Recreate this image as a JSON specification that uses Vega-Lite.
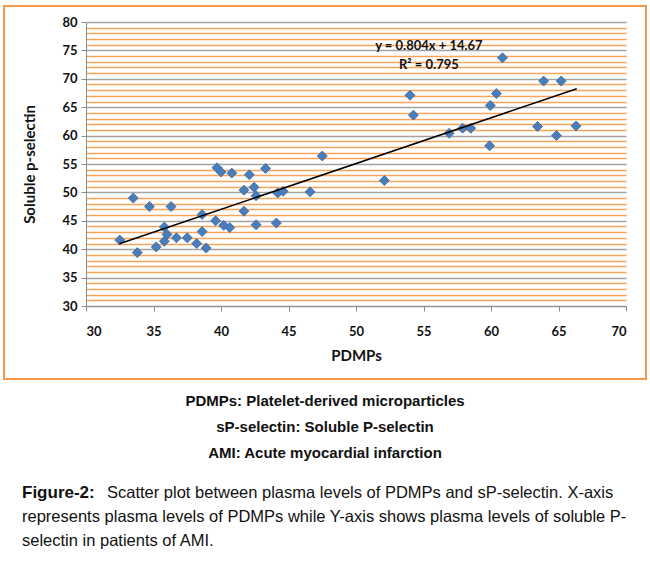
{
  "$schema": "https://vega.github.io/schema/vega-lite/v6.json",
  "padding": {"left": 3, "top": 4, "right": 0, "bottom": 0},
  "background": "white",
  "config": {
    "view": {"stroke": null},
    "font": "Lato",
    "concat": {"spacing": 10}
  },
  "datasets": {
    "points": [
      {"pdmp": 32.5, "sp": 41.6}, {"pdmp": 33.5, "sp": 49.0}, {"pdmp": 33.8, "sp": 39.4},
      {"pdmp": 34.7, "sp": 47.5}, {"pdmp": 35.2, "sp": 40.4}, {"pdmp": 35.8, "sp": 43.9},
      {"pdmp": 36.0, "sp": 42.6}, {"pdmp": 35.8, "sp": 41.4}, {"pdmp": 36.3, "sp": 47.5},
      {"pdmp": 36.7, "sp": 42.0}, {"pdmp": 37.5, "sp": 42.0}, {"pdmp": 38.2, "sp": 41.0},
      {"pdmp": 38.6, "sp": 46.1}, {"pdmp": 38.6, "sp": 43.1}, {"pdmp": 38.9, "sp": 40.2},
      {"pdmp": 39.6, "sp": 45.0}, {"pdmp": 39.7, "sp": 54.35}, {"pdmp": 40.0, "sp": 53.6},
      {"pdmp": 40.8, "sp": 53.4}, {"pdmp": 40.2, "sp": 44.2}, {"pdmp": 40.65, "sp": 43.8},
      {"pdmp": 41.7, "sp": 50.4}, {"pdmp": 41.7, "sp": 46.7}, {"pdmp": 42.1, "sp": 53.1},
      {"pdmp": 42.45, "sp": 50.9}, {"pdmp": 42.6, "sp": 49.4}, {"pdmp": 42.6, "sp": 44.3},
      {"pdmp": 43.3, "sp": 54.2}, {"pdmp": 44.2, "sp": 49.9}, {"pdmp": 44.6, "sp": 50.2},
      {"pdmp": 44.1, "sp": 44.6}, {"pdmp": 46.6, "sp": 50.1}, {"pdmp": 47.5, "sp": 56.4},
      {"pdmp": 52.1, "sp": 52.1}, {"pdmp": 54.0, "sp": 67.1}, {"pdmp": 54.25, "sp": 63.6},
      {"pdmp": 56.9, "sp": 60.4}, {"pdmp": 57.9, "sp": 61.3}, {"pdmp": 58.5, "sp": 61.3},
      {"pdmp": 59.9, "sp": 58.2}, {"pdmp": 59.95, "sp": 65.3}, {"pdmp": 60.4, "sp": 67.4},
      {"pdmp": 60.85, "sp": 73.7}, {"pdmp": 63.45, "sp": 61.6}, {"pdmp": 63.9, "sp": 69.6},
      {"pdmp": 64.85, "sp": 60.0}, {"pdmp": 65.2, "sp": 69.6}, {"pdmp": 66.3, "sp": 61.7}
    ],
    "trend": [
      {"pdmp": 32.47, "sp": 40.95},
      {"pdmp": 66.35, "sp": 68.25}
    ],
    "eq": [
      {"pdmp": 55.4, "sp": 75.8, "label": "y = 0.804x + 14.67"},
      {"pdmp": 55.4, "sp": 72.4, "label": "R² = 0.795"}
    ],
    "captions": [
      {"line": 1, "text": "PDMPs: Platelet-derived microparticles"},
      {"line": 2, "text": "sP-selectin: Soluble P-selectin"},
      {"line": 3, "text": "AMI: Acute myocardial infarction"}
    ],
    "para": [
      {"line": 1, "part": "label", "text": "Figure-2:"},
      {"line": 1, "part": "lead", "text": "Scatter plot between plasma levels of PDMPs and sP-selectin. X-axis"},
      {"line": 2, "part": "body", "text": "represents plasma levels of PDMPs while Y-axis shows plasma levels of soluble P-"},
      {"line": 3, "part": "body", "text": "selectin in patients of AMI."}
    ]
  },
  "vconcat": [
    {
      "width": 540,
      "height": 284,
      "layer": [
        {
          "data": {"name": "points"},
          "mark": {"type": "point", "shape": "diamond", "filled": true, "size": 100, "fill": "#4a7ebb", "stroke": "#3a67a0", "strokeWidth": 0.8, "opacity": 1},
          "encoding": {
            "x": {
              "field": "pdmp", "type": "quantitative",
              "scale": {"domain": [30, 70], "nice": false, "zero": false},
              "axis": {
                "title": "PDMPs",
                "values": [30, 35, 40, 45, 50, 55, 60, 65, 70],
                "tickCount": 20,
                "format": "d",
                "grid": false,
                "domainColor": "#8c8c8c",
                "tickColor": "#8c8c8c",
                "tickSize": 5,
                "labelFont": "Lato", "labelFontWeight": "bold", "labelFontSize": 13, "labelColor": "#111",
                "labelPadding": 14,
                "titleFont": "Lato", "titleFontWeight": "bold", "titleFontSize": 15, "titleColor": "#111",
                "titlePadding": 10
              }
            },
            "y": {
              "field": "sp", "type": "quantitative",
              "scale": {"domain": [30, 80], "nice": false, "zero": false},
              "axis": {
                "title": "Soluble p-selectin",
                "values": [30,31,32,33,34,35,36,37,38,39,40,41,42,43,44,45,46,47,48,49,50,51,52,53,54,55,56,57,58,59,60,61,62,63,64,65,66,67,68,69,70,71,72,73,74,75,76,77,78,79,80],
                "tickCount": 100,
                "format": "d",
                "grid": true,
                "gridColor": {"condition": {"test": "datum.value % 5 === 0", "value": "#a3a3a3"}, "value": "#f7a45c"},
                "gridWidth": 1.5,
                "tickOpacity": {"condition": {"test": "datum.value % 5 === 0", "value": 1}, "value": 0},
                "labelExpr": "datum.value % 5 === 0 ? datum.label : ''",
                "labelOverlap": false,
                "labelFlush": false,
                "domainColor": "#8c8c8c",
                "tickColor": "#8c8c8c",
                "tickSize": 5,
                "labelFont": "Lato", "labelFontWeight": "bold", "labelFontSize": 13, "labelColor": "#111",
                "labelPadding": 4,
                "titleFont": "Lato", "titleFontWeight": "bold", "titleFontSize": 15, "titleColor": "#111",
                "titlePadding": 24
              }
            }
          }
        },
        {
          "data": {"name": "trend"},
          "mark": {"type": "line", "color": "black", "strokeWidth": 1.5},
          "encoding": {
            "x": {"field": "pdmp", "type": "quantitative"},
            "y": {"field": "sp", "type": "quantitative"}
          }
        },
        {
          "data": {"name": "eq"},
          "mark": {"type": "text", "font": "Lato", "fontWeight": "bold", "fontSize": 13, "color": "#111"},
          "encoding": {
            "x": {"field": "pdmp", "type": "quantitative"},
            "y": {"field": "sp", "type": "quantitative"},
            "text": {"field": "label"}
          }
        },
        {
          "data": {"values": [{}]},
          "mark": {"type": "rect", "filled": false, "stroke": "#f79646", "strokeWidth": 2, "clip": false},
          "encoding": {
            "x": {"datum": 23.93, "type": "quantitative"},
            "x2": {"datum": 71.48},
            "y": {"datum": 82.82, "type": "quantitative"},
            "y2": {"datum": 17.15}
          }
        }
      ]
    },
    {
      "width": 478,
      "height": 74,
      "data": {"name": "captions"},
      "mark": {"type": "text", "font": "Liberation Sans", "fontWeight": "bold", "fontSize": 15, "color": "#111", "align": "center"},
      "encoding": {
        "y": {"field": "line", "type": "ordinal", "scale": {"type": "point", "padding": 0.42}, "axis": null},
        "text": {"field": "text"}
      }
    },
    {
      "width": 478,
      "height": 86,
      "data": {"name": "para"},
      "encoding": {
        "y": {"field": "line", "type": "ordinal", "scale": {"type": "point", "padding": 0.79}, "axis": null},
        "x": {"value": 0},
        "text": {"field": "text"}
      },
      "layer": [
        {
          "transform": [{"filter": "datum.part === 'label'"}],
          "mark": {"type": "text", "align": "left", "dx": -64, "font": "Liberation Sans", "fontWeight": "bold", "fontSize": 17, "color": "#111"}
        },
        {
          "transform": [{"filter": "datum.part === 'lead'"}],
          "mark": {"type": "text", "align": "left", "dx": 21, "font": "Liberation Sans", "fontSize": 16.5, "color": "#111"}
        },
        {
          "transform": [{"filter": "datum.part === 'body'"}],
          "mark": {"type": "text", "align": "left", "dx": -64, "font": "Liberation Sans", "fontSize": 16.5, "color": "#111"}
        }
      ]
    }
  ]
}
